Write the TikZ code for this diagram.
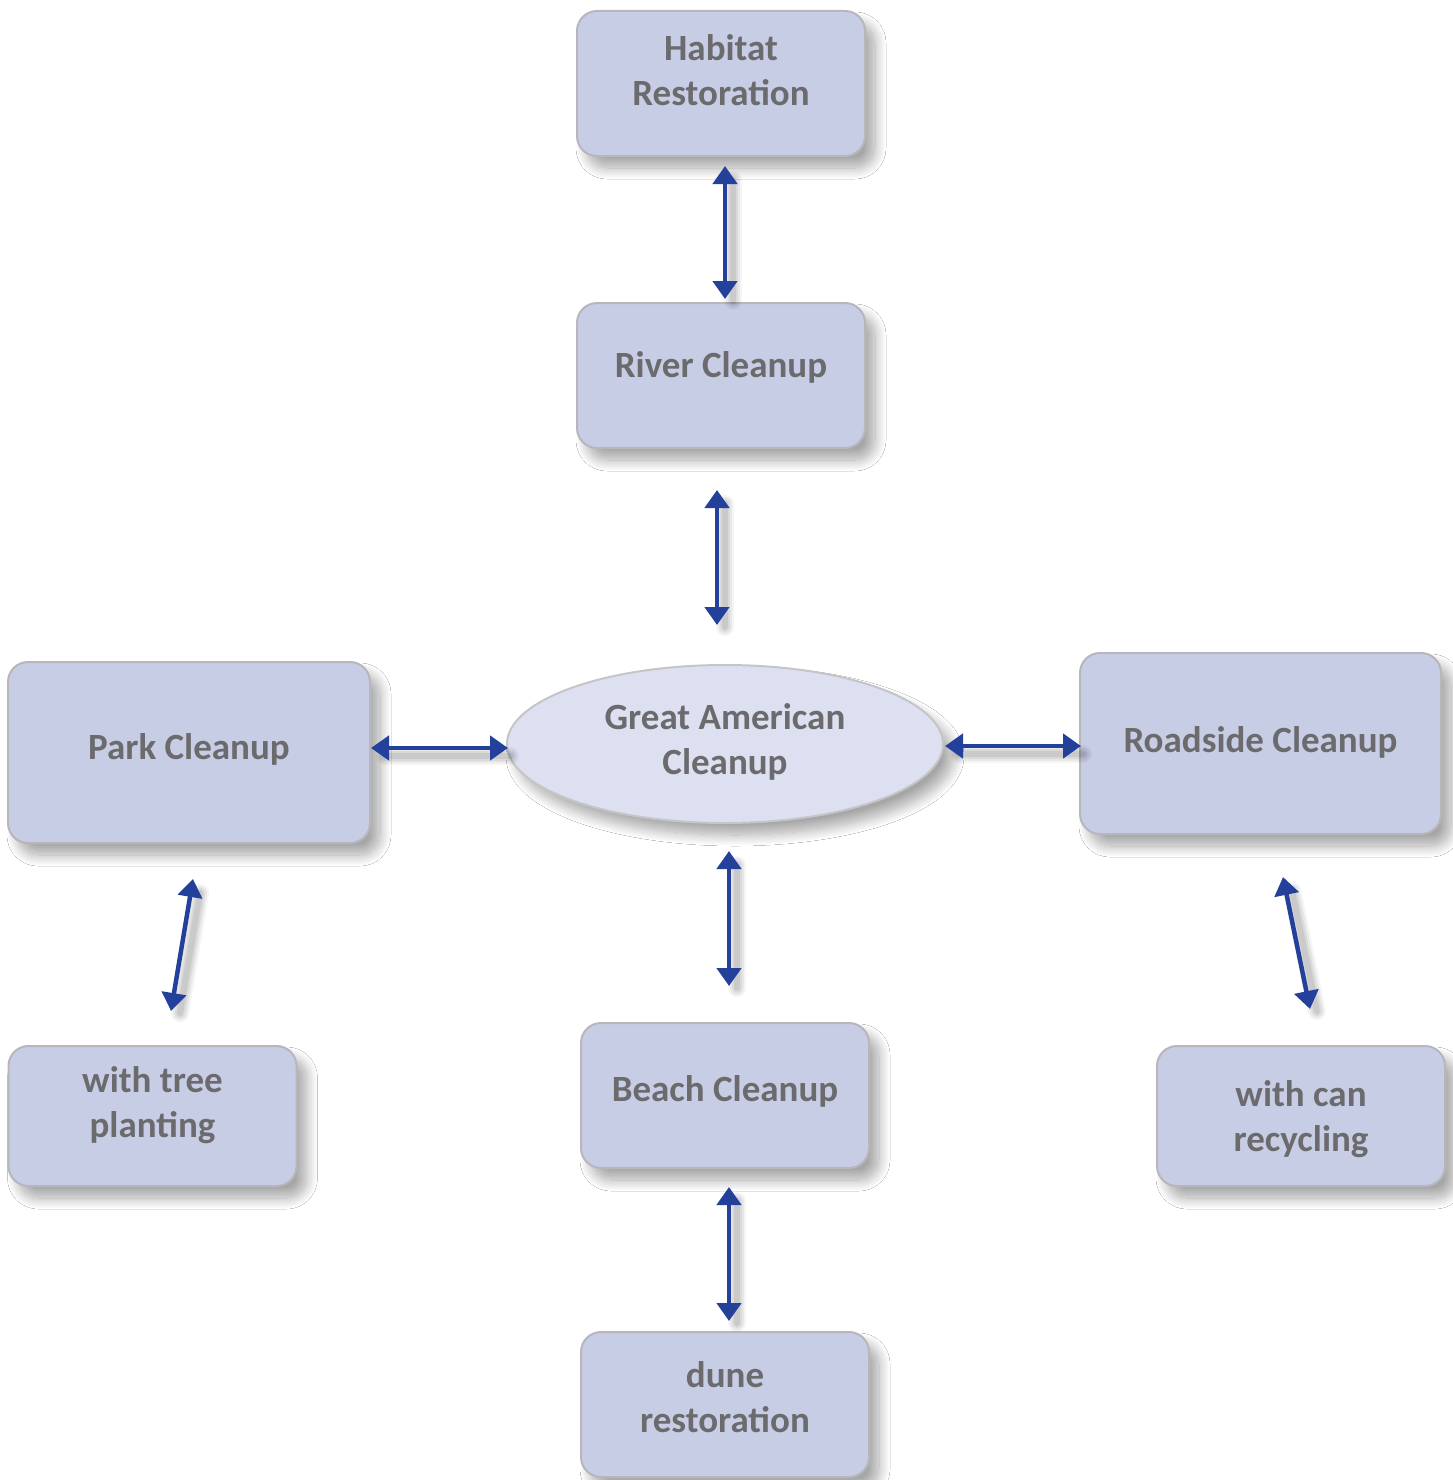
\documentclass[tikz,border=0pt]{standalone}
\usepackage{fontspec}
\setmainfont{Carlito}
\usetikzlibrary{shapes.geometric,arrows.meta,shadows.blur}
\definecolor{boxfill}{RGB}{200,205,230}
\definecolor{ellfill}{RGB}{221,224,240}
\definecolor{boxline}{RGB}{182,182,188}
\definecolor{txtcol}{RGB}{107,107,110}
\definecolor{arrcol}{RGB}{35,64,154}
\tikzset{
  x=1pt,y=-1pt,
  boxsh/.style={blur shadow={shadow xshift=10pt,shadow yshift=-12pt,shadow blur radius=11pt,shadow blur steps=16,shadow opacity=35}},
  box/.style={rectangle,rounded corners=20pt,draw=boxline,line width=2pt,fill=boxfill,
    minimum width=288pt,minimum height=145pt,inner sep=0pt,boxsh},
  ell/.style={ellipse,draw=boxline!80,line width=2pt,fill=ellfill,
    minimum width=436pt,minimum height=158pt,inner sep=0pt,boxsh},
  txt/.style={text=txtcol,font=\bfseries\fontsize{37}{45}\selectfont,align=center,inner sep=0pt},
  link/.style={draw=arrcol,line width=4.5pt,{Triangle[width=24pt,length=18pt]}-{Triangle[width=24pt,length=18pt]}},
  linksh/.style={draw=black,line cap=round,shorten <=6pt,shorten >=6pt}
}
\begin{document}
\begin{tikzpicture}
\useasboundingbox (0,0) rectangle (1453,1480);
\fill[white] (0,0) rectangle (1453,1480);

% nodes
\node[box,label={[txt,yshift=13pt]center:{Habitat\\Restoration}}] (hab) at (721,83.5) {};
\node[box,label={[txt,yshift=8pt]center:{River Cleanup}}] (riv) at (721,375.5) {};
\node[ell,label={[txt,yshift=2pt]center:{Great American\\Cleanup}}] (gac) at (725,744) {};
\node[box,minimum width=362pt,minimum height=181pt,label={[txt,yshift=3pt]center:{Park Cleanup}}] (park) at (189,752.5) {};
\node[box,minimum width=361pt,minimum height=181pt,label={[txt,yshift=1pt]center:{Roadside Cleanup}}] (road) at (1260.5,743.5) {};
\node[box,minimum height=140pt,label={[txt,yshift=11pt]center:{with tree\\planting}}] (tree) at (152.5,1116) {};
\node[box,label={[txt,yshift=4pt]center:{Beach Cleanup}}] (beach) at (725,1095.5) {};
\node[box,minimum height=140pt,label={[txt,yshift=-3pt]center:{with can\\recycling}}] (can) at (1301,1116) {};
\node[box,label={[txt,yshift=7pt]center:{dune\\restoration}}] (dune) at (725,1404.5) {};

% arrow end points
\coordinate (a1s) at (725,166); \coordinate (a1e) at (725,299);
\coordinate (a2s) at (717,490); \coordinate (a2e) at (717,625);
\coordinate (a3s) at (371,748); \coordinate (a3e) at (508,748);
\coordinate (a4s) at (945,746); \coordinate (a4e) at (1081,746);
\coordinate (a5s) at (729,851); \coordinate (a5e) at (729,986);
\coordinate (a6s) at (729,1187); \coordinate (a6e) at (729,1321);
\coordinate (a7s) at (193,879); \coordinate (a7e) at (171,1011);
\coordinate (a8s) at (1283,877); \coordinate (a8e) at (1310,1009);

% soft shadows of connectors
\foreach \s/\e in {a1s/a1e,a2s/a2e,a3s/a3e,a4s/a4e,a5s/a5e,a6s/a6e,a7s/a7e,a8s/a8e}{
  \foreach \w/\o in {18/0.04,14/0.05,10/0.06,6/0.07}{
    \draw[linksh,line width=\w pt,opacity=\o] ([shift={(8pt,-8pt)}]\s) -- ([shift={(8pt,-8pt)}]\e);
  }
}
% connectors
\draw[link] (a1s) -- (a1e);
\draw[link] (a2s) -- (a2e);
\draw[link] (a3s) -- (a3e);
\draw[link] (a4s) -- (a4e);
\draw[link] (a5s) -- (a5e);
\draw[link] (a6s) -- (a6e);
\draw[link] (a7s) -- (a7e);
\draw[link] (a8s) -- (a8e);
\end{tikzpicture}
\end{document}
